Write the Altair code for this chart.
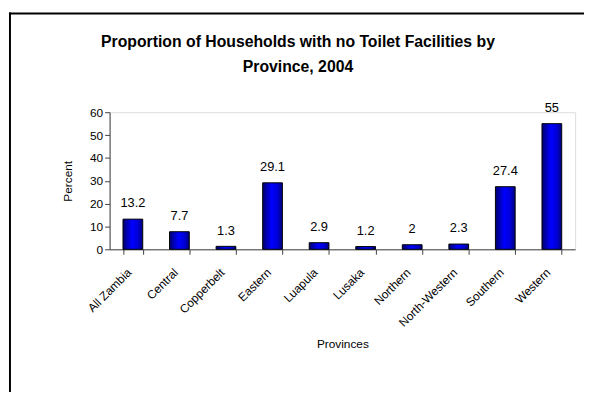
import altair as alt
import pandas as pd

provinces = ["All Zambia", "Central", "Copperbelt", "Eastern", "Luapula",
             "Lusaka", "Northern", "North-Western", "Southern", "Western"]
percent = [13.2, 7.7, 1.3, 29.1, 2.9, 1.2, 2.0, 2.3, 27.4, 55.0]
value_labels = ["13.2", "7.7", "1.3", "29.1", "2.9", "1.2", "2", "2.3", "27.4", "55"]
y_ticks = [0, 10, 20, 30, 40, 50, 60]
title_lines = ["Proportion of Households with no Toilet Facilities by", "Province, 2004"]
x_title = "Provinces"
y_title = "Percent"

FONT = "Liberation Sans"

df = pd.DataFrame({"Province": provinces, "Percent": percent, "Label": value_labels})

bar_fill = alt.Gradient(
    gradient="linear",
    stops=[alt.GradientStop(color="#00006e", offset=0),
           alt.GradientStop(color="#0000ff", offset=0.45),
           alt.GradientStop(color="#0000d8", offset=0.75),
           alt.GradientStop(color="#00007a", offset=1)],
    x1=0, x2=1, y1=0, y2=0,
)

x_enc = alt.X(
    "Province:N", sort=provinces, title=x_title,
    scale=alt.Scale(paddingInner=0.576, paddingOuter=0.288),
    axis=alt.Axis(labelAngle=-45, labelAlign="right", labelBaseline="middle",
                  labelPadding=16, labelOffset=-4, tickBand="extent", tickSize=5,
                  labelFont=FONT, labelFontSize=12, labelColor="black",
                  titleFont=FONT, titleFontSize=12, titleFontWeight="normal",
                  titleColor="black", titleBaseline="alphabetic", titleY=100,
                  domainColor="#404040", tickColor="#404040", labelOverlap=False),
)
y_enc = alt.Y(
    "Percent:Q", title=y_title,
    scale=alt.Scale(domain=[0, 60], nice=False),
    axis=alt.Axis(values=y_ticks, grid=False, tickSize=5, labelPadding=2,
                  labelOverlap=False,
                  labelFont=FONT, labelFontSize=12, labelColor="black",
                  titleFont=FONT, titleFontSize=12, titleFontWeight="normal",
                  titleColor="black", titleX=-39, titleBaseline="alphabetic",
                  domainColor="#404040", tickColor="#404040"),
)

base = alt.Chart(df).encode(x=x_enc, y=y_enc)
bars = base.mark_bar(fill=bar_fill, stroke="black", strokeWidth=1)
labels = base.mark_text(font=FONT, fontSize=13, baseline="alphabetic", dy=-12,
                        color="black").encode(text="Label:N")

frame_df = pd.DataFrame({"k": [0]})
frame_left = alt.Chart(frame_df).mark_rect(fill="black").encode(
    x=alt.value(-102), x2=alt.value(-100), y=alt.value(-101), y2=alt.value(300))
frame_top = alt.Chart(frame_df).mark_rect(fill="black").encode(
    x=alt.value(-102), x2=alt.value(490), y=alt.value(-101), y2=alt.value(-99))

chart = alt.layer(bars, labels, frame_left, frame_top).properties(
    width=472, height=139,
    title=alt.TitleParams(text=title_lines, font=FONT, fontSize=16, fontWeight="bold",
                          color="black", anchor="middle", dx=-45, dy=67, lineHeight=25),
    autosize=alt.AutoSizeParams(type="none"),
    padding={"left": 103, "top": 103, "right": 9, "bottom": 142},
).configure_view(stroke=None).configure(background="white")

chart.save("out.html", embed_options={"renderer": "svg", "actions": False})
